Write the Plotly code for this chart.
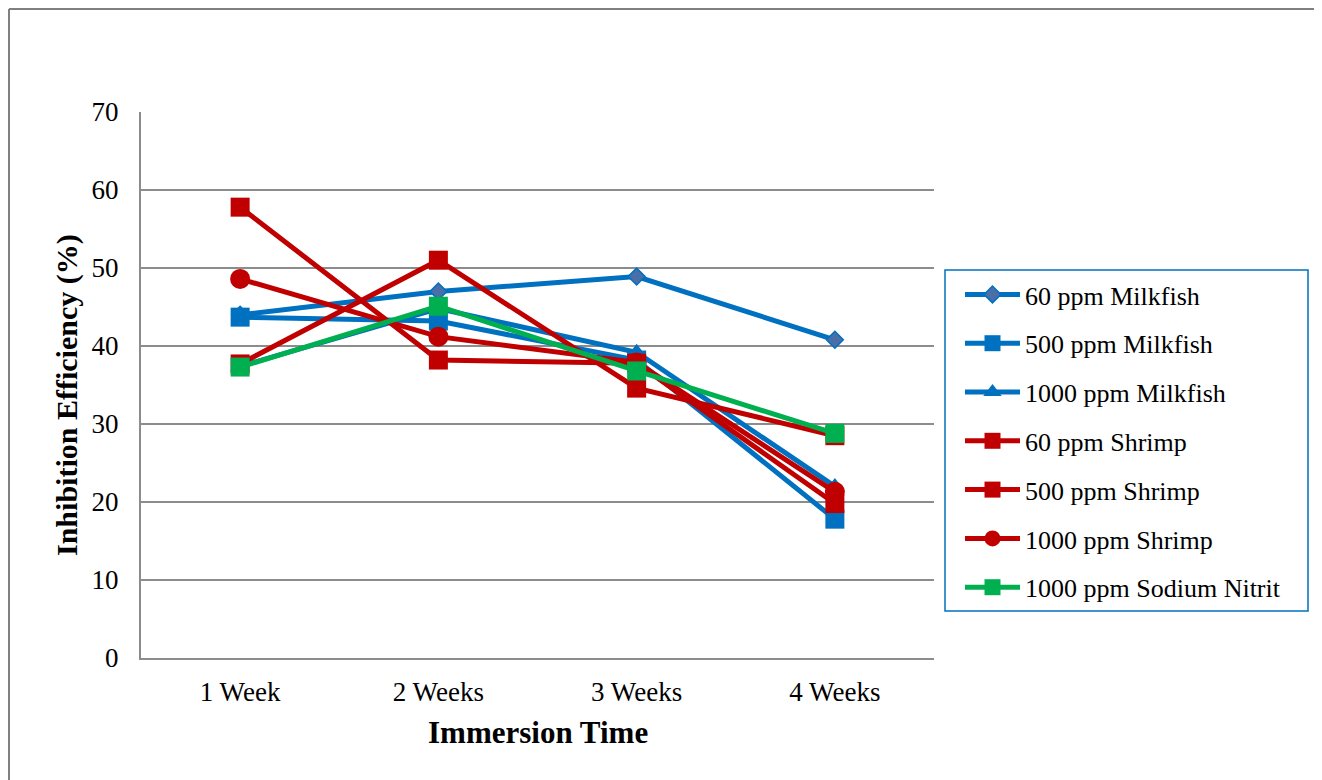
import plotly.graph_objects as go

weeks = ["1 Week", "2 Weeks", "3 Weeks", "4 Weeks"]

milkfish_60 = [44.0, 47.0, 48.9, 40.8]
milkfish_500 = [43.7, 43.2, 38.2, 17.8]
milkfish_1000 = [37.4, 44.8, 39.2, 22.0]
shrimp_60 = [57.8, 38.2, 37.8, 19.8]
shrimp_500 = [37.7, 51.0, 34.6, 28.5]
shrimp_1000 = [48.6, 41.2, 37.9, 21.3]
sodium_nitrit_1000 = [37.3, 45.1, 36.8, 28.8]

BLUE = "#0070C0"
RED = "#C00000"
GREEN = "#00B050"
FONT = "Liberation Serif"

series = [
    ("60 ppm Milkfish", milkfish_60, BLUE, "diamond", 13, "#4A6EA8"),
    ("500 ppm Milkfish", milkfish_500, BLUE, "square", 19, BLUE),
    ("1000 ppm Milkfish", milkfish_1000, BLUE, "triangle-up", 17, BLUE),
    ("60 ppm Shrimp", shrimp_60, RED, "square", 19, RED),
    ("500 ppm Shrimp", shrimp_500, RED, "square", 19, RED),
    ("1000 ppm Shrimp", shrimp_1000, RED, "circle", 20, RED),
    ("1000 ppm Sodium Nitrit", sodium_nitrit_1000, GREEN, "square", 19, GREEN),
]

fig = go.Figure()
for i, (name, vals, col, sym, size, fill) in enumerate(series):
    fig.add_trace(go.Scatter(
        x=weeks, y=vals, name=name, mode="lines+markers",
        line=dict(color=col, width=5),
        marker=dict(symbol=sym, size=size, color=fill,
                    line=dict(color=col, width=1.5 if sym == "diamond" else 0)),
        legendgroup=f"g{i}",
    ))

# page offset (browser body margin)
OFF = 8
W, H = 1322 - OFF, 780 - OFF
L, R, T, B = 141 - OFF, 934 - OFF, 112 - OFF, 658 - OFF
pw, ph = R - L, B - T

def px_x(p):
    return (p - OFF - L) / pw

def px_y(p):
    return (B - (p - OFF)) / ph

fig.update_layout(
    width=W, height=H,
    margin=dict(l=L, r=W - R, t=T, b=H - B, pad=0),
    paper_bgcolor="white", plot_bgcolor="white",
    font=dict(family=FONT, size=27, color="black"),
    showlegend=True,
    legend=dict(
        x=px_x(960), y=px_y(271), xanchor="left", yanchor="top",
        bgcolor="rgba(0,0,0,0)", borderwidth=0,
        font=dict(family=FONT, size=26, color="black"),
        tracegroupgap=12, itemwidth=55,
    ),
    xaxis=dict(
        type="category", range=[-0.5, 3.5], showgrid=False,
        showline=True, linecolor="#8C8C8C", linewidth=2,
        ticks="", tickfont=dict(family=FONT, size=27, color="black"),
        ticklabelstandoff=9, zeroline=False,
    ),
    yaxis=dict(
        range=[0, 70], dtick=10, showgrid=True, gridcolor="#8C8C8C", gridwidth=2,
        showline=True, linecolor="#8C8C8C", linewidth=2,
        ticks="", tickfont=dict(family=FONT, size=27, color="black"),
        ticklabelstandoff=15, zeroline=False,
    ),
    shapes=[
        dict(type="rect", xref="paper", yref="paper",
             x0=px_x(945), x1=px_x(1308), y0=px_y(611), y1=px_y(270),
             line=dict(color=BLUE, width=1.5), fillcolor="rgba(0,0,0,0)"),
        dict(type="line", xref="paper", yref="paper",
             x0=px_x(9), x1=px_x(9), y0=px_y(780), y1=px_y(9),
             line=dict(color="#808080", width=2)),
        dict(type="line", xref="paper", yref="paper",
             x0=px_x(9), x1=px_x(1322), y0=px_y(9), y1=px_y(9),
             line=dict(color="#808080", width=2)),
    ],
    annotations=[
        dict(text="<b>Inhibition Efficiency (%)</b>", textangle=-90,
             xref="paper", yref="paper", x=px_x(67), y=px_y(395),
             xanchor="center", yanchor="middle", showarrow=False,
             font=dict(family=FONT, size=30, color="black")),
        dict(text="<b>Immersion Time</b>",
             xref="paper", yref="paper", x=px_x(538), y=px_y(732),
             xanchor="center", yanchor="middle", showarrow=False,
             font=dict(family=FONT, size=31, color="black")),
    ],
)

fig.write_html("out.html")
